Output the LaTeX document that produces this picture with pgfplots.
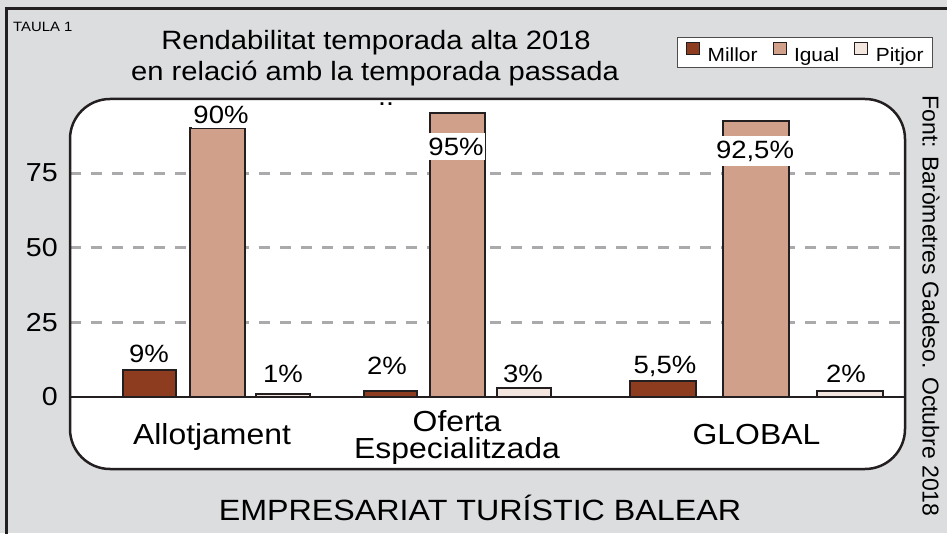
\documentclass[border=0pt]{standalone}
\usepackage{fontspec}
\setmainfont{Liberation Sans}[FakeStretch=1.1]
\newfontfamily\vfont{Liberation Sans}
\usepackage{pgfplots}
\pgfplotsset{compat=1.18}
\definecolor{bg}{RGB}{220,221,223}
\definecolor{framec}{RGB}{35,31,32}
\definecolor{millor}{RGB}{142,60,32}
\definecolor{igual}{RGB}{208,160,138}
\definecolor{pitjor}{RGB}{242,230,222}
\definecolor{gridc}{RGB}{170,170,172}
\newcommand\fs[1]{\fontsize{#1}{#1}\selectfont}
\begin{document}
\begin{tikzpicture}[x=1pt,y=1pt]
\useasboundingbox (0,0) rectangle (947,533);
\fill[bg] (0,0) rectangle (947,533);
\draw[line width=3pt, framec] (6.5,-5) -- (6.5,524.5) -- (960,524.5);
\begin{axis}[
  at={(70pt,64pt)}, anchor=south west,
  width=835pt, height=370pt, scale only axis,
  xmin=70, xmax=905, ymin=-24.1, ymax=99.8,
  axis line style={draw=none},
  axis background/.style={fill=white, rounded corners=40pt},
  major tick length=0pt,
  tick style={draw=none},
  ytick={25,50,75},
  yticklabels={{\fs{26}25},{\fs{26}50},{\fs{26}75}},
  extra y ticks={0},
  extra y tick labels={{\fs{26}0}},
  extra y tick style={major grid style={solid, framec, line width=2.5pt}},
  ymajorgrids,
  major grid style={gridc, line width=3pt, dash pattern=on 11pt off 10pt},
  /pgf/number format/assume math mode=true,
  yticklabel style={font=\fs{26}, inner sep=0pt, anchor=east, xshift=-12pt},
  xtick={212,457,756.5},
  xticklabels={Allotjament,{Oferta\\Especialitzada},GLOBAL\vphantom{j}},
  xticklabel style={font=\fontsize{29}{27}\selectfont, align=center, anchor=center, yshift=31.5pt, inner sep=0pt},
  legend columns=3,
  legend image code/.code={\draw[#1, line width=1pt] (0pt,0pt) rectangle (13pt,12pt); \path[draw=none, fill=none] (0pt,0pt) -- (21pt,0pt);},
  legend style={at={(0.880,1.1257)}, anchor=center, draw=framec!80, line width=1.2pt, fill=white,
    font=\fs{19}, inner xsep=9pt, inner ysep=5pt, nodes={inner sep=0pt},
    /tikz/every even column/.append style={column sep=15pt}},
]
\addplot[ybar, bar width=53, bar shift=0pt, fill=millor, draw=framec, line width=2pt]
  coordinates {(149,9) (390,2)};
\addplot[ybar, bar width=55, bar shift=0pt, fill=igual, draw=framec, line width=2pt]
  coordinates {(217.5,90) (457,95)};
\addplot[ybar, bar width=54, bar shift=0pt, fill=pitjor, draw=framec, line width=2pt]
  coordinates {(283,1) (523.5,3)};
\addplot[ybar, bar width=66, bar shift=0pt, fill=millor, draw=framec, line width=2pt, forget plot]
  coordinates {(663,5.5)};
\addplot[ybar, bar width=66, bar shift=0pt, fill=igual, draw=framec, line width=2pt, forget plot]
  coordinates {(756,92.5)};
\addplot[ybar, bar width=66, bar shift=0pt, fill=pitjor, draw=framec, line width=2pt, forget plot]
  coordinates {(849.5,2)};
\legend{Millor,Igual,Pitjor}
\begin{scope}[every node/.style={font=\fs{25}, anchor=base, inner sep=0pt}]
\node at (axis cs:149,11.4) {9\%};
\node[fill=white, inner xsep=1pt, inner ysep=5pt] at (axis cs:221,91.7) {90\%};
\node at (axis cs:283,5.0) {1\%};
\node at (axis cs:387,7.4) {2\%};
\node[fill=white, inner xsep=1pt, inner ysep=5pt] at (axis cs:456,81.0) {95\%};
\node at (axis cs:523,5.0) {3\%};
\node at (axis cs:665,8.0) {5,5\%};
\node[fill=white, inner xsep=3pt, inner ysep=5pt] at (axis cs:755,80.0) {92,5\%};
\node at (axis cs:846,5.0) {2\%};
\end{scope}
\end{axis}
\draw[line width=2.5pt, framec, rounded corners=40pt] (70,64) rectangle (905,434);
\node[anchor=base west, inner sep=0pt, font=\fs{13.5}] at (13,501) {TAULA 1};
\node[anchor=base, inner sep=0pt, font=\fs{26.5}] at (376,483) {Rendabilitat temporada alta 2018};
\node[anchor=base, inner sep=0pt, font=\fs{26.5}] at (375,452) {en relació amb la temporada passada};
\node[anchor=base, inner sep=0pt, font=\fs{26}] at (386,427) {..};
\node[anchor=base, inner sep=0pt, font=\fs{29.3}] at (480,13) {EMPRESARIAT TURÍSTIC BALEAR};
\node[rotate=-90, inner sep=0pt, font=\vfont\fs{23}] at (931,227) {Font: Baròmetres Gadeso. Octubre 2018};
\end{tikzpicture}
\end{document}
